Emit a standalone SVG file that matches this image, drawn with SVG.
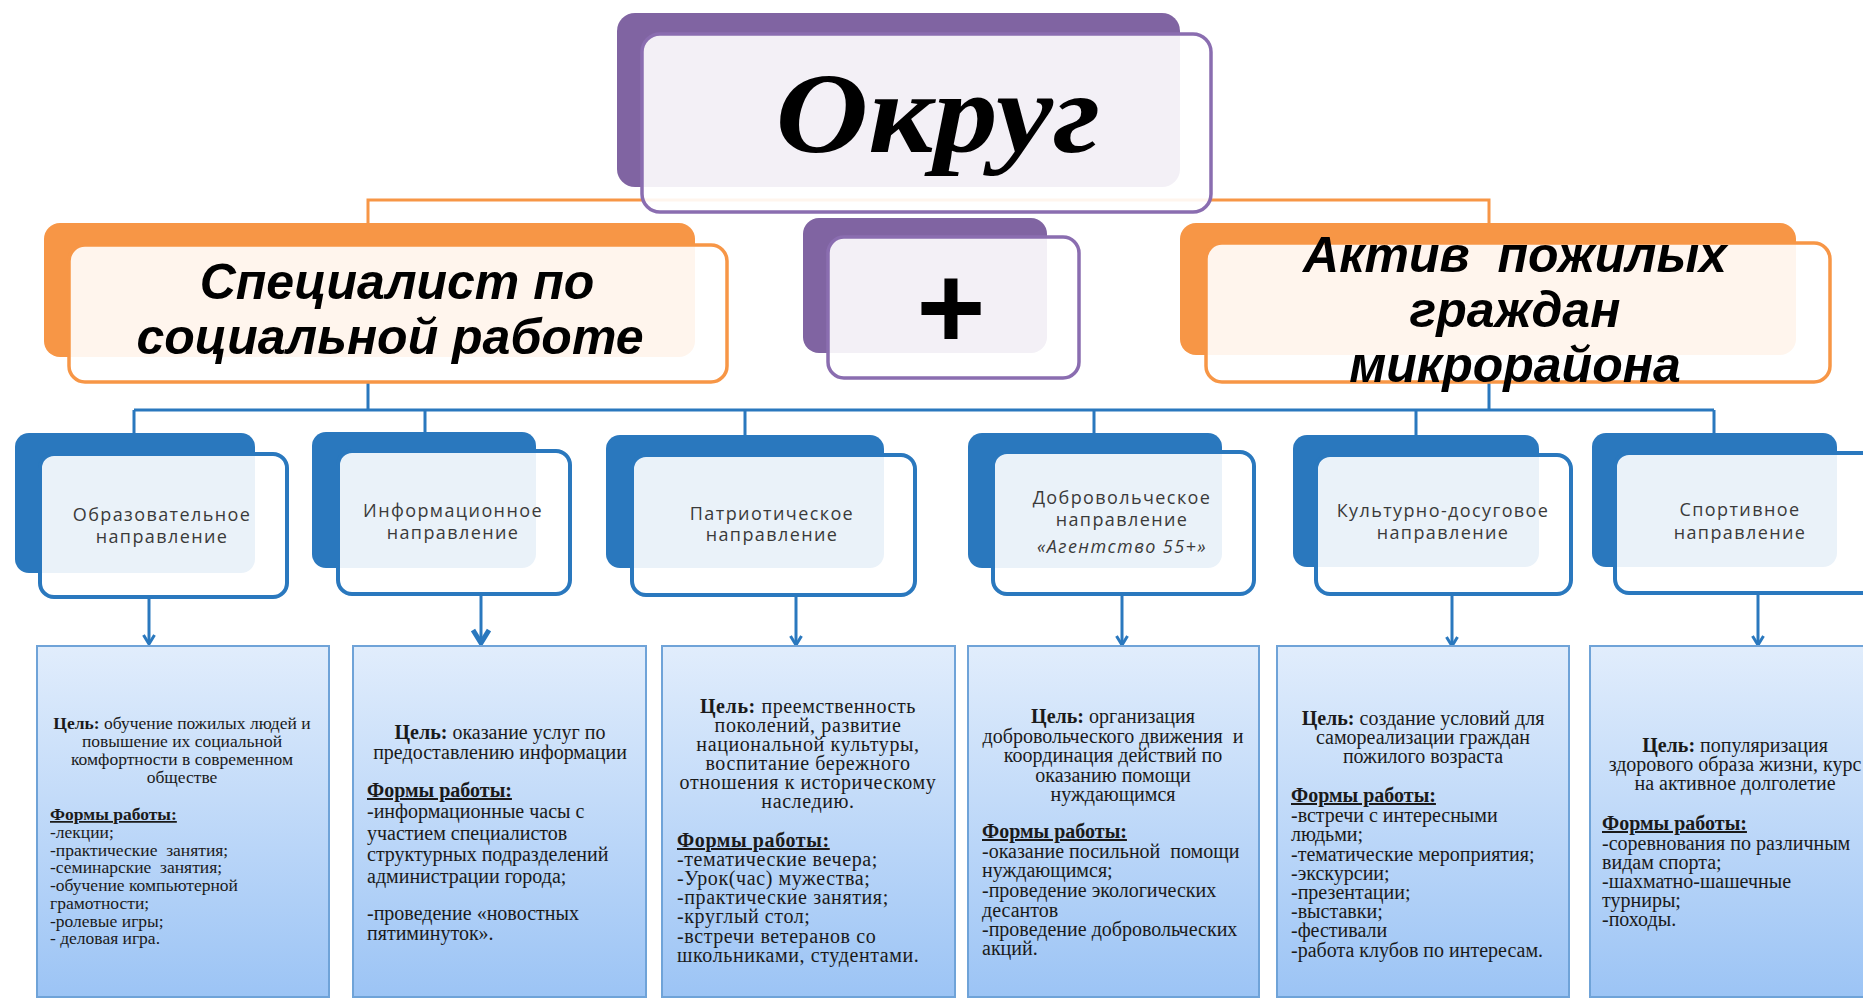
<svg xmlns="http://www.w3.org/2000/svg" width="1863" height="999" viewBox="0 0 1863 999">
<defs>
<linearGradient id="tbg" x1="0" y1="0" x2="0" y2="1">
<stop offset="0" stop-color="#e1edfc"/>
<stop offset="1" stop-color="#9cc4f5"/>
</linearGradient>
<marker id="arr" viewBox="0 0 14 14" refX="12" refY="7" markerWidth="14" markerHeight="14" markerUnits="userSpaceOnUse" orient="auto">
<polyline points="3,1.5 12,7 3,12.5" fill="none" stroke="#2A78BE" stroke-width="3"/>
</marker>
<marker id="arr2" viewBox="0 0 20 20" refX="18" refY="10" markerWidth="20" markerHeight="20" markerUnits="userSpaceOnUse" orient="auto">
<polyline points="4,2 17,10 4,18" fill="none" stroke="#2A78BE" stroke-width="5"/>
</marker>
<style>
.bgP{fill:#8064A2}
.fgP{fill:#fff;fill-opacity:0.9;stroke:#8a6db0;stroke-width:3.5}
.bgO{fill:#F79646}
.fgO{fill:#fff;fill-opacity:0.9;stroke:#F79646;stroke-width:3.5}
.bgB{fill:#2A78BE}
.fgB{fill:#fff;fill-opacity:0.9;stroke:#2A78BE;stroke-width:4}
.head{font-family:"Liberation Sans",Arial,sans-serif;font-weight:bold;font-style:italic;font-size:50px;fill:#000;text-anchor:middle;white-space:pre}
.lbl{font-family:"Open Sans","Noto Sans",sans-serif;font-size:18px;fill:#3a3a3a;text-anchor:middle;letter-spacing:1.4px}
.tb{fill:url(#tbg);stroke:#6fa3d8;stroke-width:2}
.t{font-family:"Liberation Serif","Times New Roman",serif;font-size:20px;fill:#1a1a1a;white-space:pre}
.s{font-size:17.5px}
.w{letter-spacing:0.6px}
.c{text-anchor:middle}
.b{font-weight:bold}
.f{font-weight:bold;text-decoration:underline}
.ln{fill:none;stroke-width:3}
</style>
</defs>

<g id="connectors">
<path class="ln" stroke="#F79646" d="M368,245 V200 H1489 V243"/>
<path class="ln" stroke="#2A78BE" d="M368,382 V410 M1489,382 V410 M134,410 H1714 M134,410 V433 M425,410 V432 M745,410 V435 M1094,410 V433 M1416,410 V435 M1714,410 V433"/>
<path class="ln" stroke="#2A78BE" marker-end="url(#arr)" d="M149,597 V644"/>
<path class="ln" stroke="#2A78BE" stroke-width="4" marker-end="url(#arr2)" d="M481,594 V644"/>
<path class="ln" stroke="#2A78BE" marker-end="url(#arr)" d="M796,595 V645"/>
<path class="ln" stroke="#2A78BE" marker-end="url(#arr)" d="M1122,594 V645"/>
<path class="ln" stroke="#2A78BE" marker-end="url(#arr)" d="M1452,594 V646"/>
<path class="ln" stroke="#2A78BE" marker-end="url(#arr)" d="M1758,593 V645"/>
</g>

<g id="okrug">
<rect class="bgP" x="617" y="13" width="563" height="174" rx="18"/>
<rect class="fgP" x="642" y="34" width="569" height="178" rx="18"/>
<text x="938" y="152" font-family="Liberation Serif,'Times New Roman',serif" font-weight="bold" font-style="italic" font-size="115" text-anchor="middle" textLength="325" lengthAdjust="spacingAndGlyphs">Округ</text>
</g>

<g id="specialist">
<rect class="bgO" x="44" y="223" width="651" height="134" rx="16"/>
<rect class="fgO" x="69" y="245" width="658" height="137" rx="16"/>
<text class="head" x="397" y="299">Специалист по</text>
<text class="head" x="390" y="354">социальной работе</text>
</g>

<g id="plus">
<rect class="bgP" x="803" y="218" width="244" height="135" rx="16"/>
<rect class="fgP" x="828" y="237" width="251" height="141" rx="16"/>
<text x="951" y="348" font-family="Liberation Sans,Arial,sans-serif" font-weight="bold" font-size="118" text-anchor="middle">+</text>
</g>

<g id="aktiv">
<rect class="bgO" x="1180" y="223" width="616" height="132" rx="16"/>
<rect class="fgO" x="1206" y="243" width="624" height="139" rx="16"/>
<text class="head" x="1515" y="272">Актив  пожилых</text>
<text class="head" x="1515" y="327">граждан</text>
<text class="head" x="1515" y="382">микрорайона</text>
</g>

<g id="dir-edu">
<rect class="bgB" x="15" y="433" width="240" height="140" rx="14"/>
<rect class="fgB" x="40" y="454" width="247" height="143" rx="14"/>
<text class="lbl" x="162" y="521">Образовательное</text>
<text class="lbl" x="162" y="543">направление</text>
</g>

<g id="dir-info">
<rect class="bgB" x="312" y="432" width="224" height="136" rx="14"/>
<rect class="fgB" x="338" y="451" width="232" height="143" rx="14"/>
<text class="lbl" x="453" y="517">Информационное</text>
<text class="lbl" x="453" y="539">направление</text>
</g>

<g id="dir-patr">
<rect class="bgB" x="606" y="435" width="278" height="133" rx="14"/>
<rect class="fgB" x="632" y="455" width="283" height="140" rx="14"/>
<text class="lbl" x="772" y="520">Патриотическое</text>
<text class="lbl" x="772" y="541">направление</text>
</g>

<g id="dir-vol">
<rect class="bgB" x="968" y="433" width="254" height="135" rx="14"/>
<rect class="fgB" x="993" y="452" width="261" height="142" rx="14"/>
<text class="lbl" x="1122" y="504">Добровольческое</text>
<text class="lbl" x="1122" y="526">направление</text>
<text class="lbl" x="1122" y="553" font-style="italic">«Агентство 55+»</text>
</g>

<g id="dir-cult">
<rect class="bgB" x="1293" y="435" width="246" height="132" rx="14"/>
<rect class="fgB" x="1316" y="455" width="255" height="139" rx="14"/>
<text class="lbl" x="1443" y="517">Культурно-досуговое</text>
<text class="lbl" x="1443" y="539">направление</text>
</g>

<g id="dir-sport">
<rect class="bgB" x="1592" y="433" width="245" height="134" rx="14"/>
<rect class="fgB" x="1615" y="453" width="262" height="140" rx="14"/>
<text class="lbl" x="1740" y="516">Спортивное</text>
<text class="lbl" x="1740" y="539">направление</text>
</g>

<g id="box-edu">
<rect class="tb" x="37" y="646" width="292" height="351"/>
<text class="t s c" x="182" y="729"><tspan class="b">Цель:</tspan> обучение пожилых людей и</text>
<text class="t s c" x="182" y="747">повышение их социальной</text>
<text class="t s c" x="182" y="765">комфортности в современном</text>
<text class="t s c" x="182" y="783">обществе</text>
<text class="t s f" x="50" y="820">Формы работы:</text>
<text class="t s" x="50" y="838">-лекции;</text>
<text class="t s" x="50" y="856">-практические  занятия;</text>
<text class="t s" x="50" y="873">-семинарские  занятия;</text>
<text class="t s" x="50" y="891">-обучение компьютерной</text>
<text class="t s" x="50" y="909">грамотности;</text>
<text class="t s" x="50" y="927">-ролевые игры;</text>
<text class="t s" x="50" y="944">- деловая игра.</text>
</g>

<g id="box-info">
<rect class="tb" x="353" y="646" width="293" height="351"/>
<text class="t c" x="500" y="739"><tspan class="b">Цель:</tspan> оказание услуг по</text>
<text class="t c" x="500" y="759">предоставлению информации</text>
<text class="t f" x="367" y="797">Формы работы:</text>
<text class="t" x="367" y="818">-информационные часы с</text>
<text class="t" x="367" y="840">участием специалистов</text>
<text class="t" x="367" y="861">структурных подразделений</text>
<text class="t" x="367" y="883">администрации города;</text>
<text class="t" x="367" y="920">-проведение «новостных</text>
<text class="t" x="367" y="940">пятиминуток».</text>
</g>

<g id="box-patr">
<rect class="tb" x="662" y="646" width="293" height="351"/>
<text class="t w c" x="808" y="713"><tspan class="b">Цель:</tspan> преемственность</text>
<text class="t w c" x="808" y="732">поколений, развитие</text>
<text class="t w c" x="808" y="751">национальной культуры,</text>
<text class="t w c" x="808" y="770">воспитание бережного</text>
<text class="t w c" x="808" y="789">отношения к историческому</text>
<text class="t w c" x="808" y="808">наследию.</text>
<text class="t w f" x="677" y="847">Формы работы:</text>
<text class="t w" x="677" y="866">-тематические вечера;</text>
<text class="t w" x="677" y="885">-Урок(час) мужества;</text>
<text class="t w" x="677" y="904">-практические занятия;</text>
<text class="t w" x="677" y="923">-круглый стол;</text>
<text class="t w" x="677" y="943">-встречи ветеранов со</text>
<text class="t w" x="677" y="962">школьниками, студентами.</text>
</g>

<g id="box-vol">
<rect class="tb" x="968" y="646" width="291" height="351"/>
<text class="t c" x="1113" y="723"><tspan class="b">Цель:</tspan> организация</text>
<text class="t c" x="1113" y="743">добровольческого движения  и</text>
<text class="t c" x="1113" y="762">координация действий по</text>
<text class="t c" x="1113" y="782">оказанию помощи</text>
<text class="t c" x="1113" y="801">нуждающимся</text>
<text class="t f" x="982" y="838">Формы работы:</text>
<text class="t" x="982" y="858">-оказание посильной  помощи</text>
<text class="t" x="982" y="877">нуждающимся;</text>
<text class="t" x="982" y="897">-проведение экологических</text>
<text class="t" x="982" y="917">десантов</text>
<text class="t" x="982" y="936">-проведение добровольческих</text>
<text class="t" x="982" y="955">акций.</text>
</g>

<g id="box-cult">
<rect class="tb" x="1277" y="646" width="292" height="351"/>
<text class="t c" x="1423" y="725"><tspan class="b">Цель:</tspan> создание условий для</text>
<text class="t c" x="1423" y="744">самореализации граждан</text>
<text class="t c" x="1423" y="763">пожилого возраста</text>
<text class="t f" x="1291" y="802">Формы работы:</text>
<text class="t" x="1291" y="822">-встречи с интересными</text>
<text class="t" x="1291" y="841">людьми;</text>
<text class="t" x="1291" y="861">-тематические мероприятия;</text>
<text class="t" x="1291" y="880">-экскурсии;</text>
<text class="t" x="1291" y="899">-презентации;</text>
<text class="t" x="1291" y="918">-выставки;</text>
<text class="t" x="1291" y="937">-фестивали</text>
<text class="t" x="1291" y="957">-работа клубов по интересам.</text>
</g>

<g id="box-sport">
<rect class="tb" x="1590" y="646" width="290" height="351"/>
<text class="t c" x="1735" y="752"><tspan class="b">Цель:</tspan> популяризация</text>
<text class="t c" x="1735" y="771">здорового образа жизни, курс</text>
<text class="t c" x="1735" y="790">на активное долголетие</text>
<text class="t f" x="1602" y="830">Формы работы:</text>
<text class="t" x="1602" y="850">-соревнования по различным</text>
<text class="t" x="1602" y="869">видам спорта;</text>
<text class="t" x="1602" y="888">-шахматно-шашечные</text>
<text class="t" x="1602" y="907">турниры;</text>
<text class="t" x="1602" y="926">-походы.</text>
</g>
</svg>
